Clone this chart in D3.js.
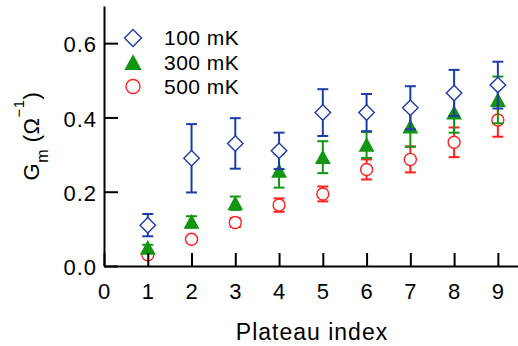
<!DOCTYPE html>
<html>
<head>
<meta charset="utf-8">
<script src="https://cdn.jsdelivr.net/npm/d3@7"></script>
<style>
  html, body { margin: 0; padding: 0; background: #fff; }
  svg { display: block; font-family: "Liberation Sans", Arial, Helvetica, sans-serif; }
</style>
</head>
<body>
<svg id="chart" width="518" height="346"></svg>
<script>
// plateau index 1..9
const plateaus = [1, 2, 3, 4, 5, 6, 7, 8, 9];

// G_m values (1/Ohm) and error half-widths
const g100 = [0.110, 0.290, 0.330, 0.310, 0.413, 0.413, 0.426, 0.466, 0.487];
const e100 = [0.030, 0.092, 0.068, 0.049, 0.063, 0.050, 0.058, 0.062, 0.063];
const g300 = [0.049, 0.119, 0.169, 0.256, 0.293, 0.326, 0.375, 0.413, 0.447];
const e300 = [0.008, 0.015, 0.018, 0.045, 0.043, 0.035, 0.054, 0.054, 0.063];
const g500 = [0.030, 0.072, 0.117, 0.164, 0.194, 0.260, 0.287, 0.333, 0.393];
const e500 = [0.005, 0.006, 0.012, 0.018, 0.020, 0.027, 0.035, 0.040, 0.045];

const xTicks = [0, 1, 2, 3, 4, 5, 6, 7, 8, 9];
const yTicks = [0, 0.2, 0.4, 0.6];
const seriesNames = ["100 mK", "300 mK", "500 mK"];

const svg = d3.select("#chart");
const margin = { left: 104, right: 0, top: 6, bottom: 80 };
const W = 518, H = 346;

const x = d3.scaleLinear().domain([0, 9.46]).range([margin.left, W - margin.right]);
const y = d3.scaleLinear().domain([0, 0.7]).range([H - margin.bottom, margin.top]);

// custom symbol shapes
const diamond = {
	draw(ctx, size) {
		const r = size / 2;
		ctx.moveTo(0, -r);
		ctx.lineTo(r, 0);
		ctx.lineTo(0, r);
		ctx.lineTo(-r, 0);
		ctx.closePath();
	}
};
const triangle = {
	draw(ctx, size) {
		const w = size / 2, h = size * 0.46;
		ctx.moveTo(0, -h);
		ctx.lineTo(w, h);
		ctx.lineTo(-w, h);
		ctx.closePath();
	}
};
const circle = {
	draw(ctx, size) {
		const r = size / 2;
		ctx.moveTo(r, 0);
		ctx.arc(0, 0, r, 0, 2 * Math.PI);
	}
};

const series = [
	{ name: seriesNames[2], vals: g500, errs: e500, color: "#ff1f1f", type: circle, size: 12, legSize: 14, fill: "#fff" },
	{ name: seriesNames[1], vals: g300, errs: e300, color: "#129612", type: triangle, size: 13.5, legSize: 15, fill: "#129612" },
	{ name: seriesNames[0], vals: g100, errs: e100, color: "#1c3ca8", type: diamond, size: 15.5, legSize: 17, fill: "#fff" }
];

const capW = 11;

series.forEach(s => {
	const g = svg.append("g");
	const pts = plateaus.map((p, i) => ({ p: p, v: s.vals[i], e: s.errs[i] }));

	// error bars
	const eb = g.selectAll(".eb").data(pts).enter().append("g")
		.attr("stroke", s.color).attr("stroke-width", 2);
	eb.append("line")
		.attr("x1", d => x(d.p)).attr("x2", d => x(d.p))
		.attr("y1", d => y(d.v + d.e)).attr("y2", d => y(d.v - d.e));
	eb.append("line")
		.attr("x1", d => x(d.p) - capW / 2).attr("x2", d => x(d.p) + capW / 2)
		.attr("y1", d => y(d.v + d.e)).attr("y2", d => y(d.v + d.e));
	eb.append("line")
		.attr("x1", d => x(d.p) - capW / 2).attr("x2", d => x(d.p) + capW / 2)
		.attr("y1", d => y(d.v - d.e)).attr("y2", d => y(d.v - d.e));

	// markers
	g.selectAll(".mk").data(pts).enter().append("path")
		.attr("d", d3.symbol().type(s.type).size(s.size))
		.attr("transform", d => `translate(${x(d.p)},${y(d.v)})`)
		.attr("fill", s.fill)
		.attr("stroke", s.color)
		.attr("stroke-width", 1.4);
});

// axes
const fs = 22;
const xAxis = d3.axisBottom(x).tickValues(xTicks).tickFormat(d3.format("d"))
	.tickSize(-13).tickSizeOuter(0).tickPadding(17);
const yAxis = d3.axisLeft(y).tickValues(yTicks).tickFormat(d3.format(".1f"))
	.tickSize(-14).tickSizeOuter(0).tickPadding(8);

const gx = svg.append("g").attr("transform", `translate(0,${y(0)})`).call(xAxis);
const gy = svg.append("g").attr("transform", `translate(${x(0)},0)`).call(yAxis);

[gx, gy].forEach(a => {
	a.select(".domain").attr("stroke", "#000").attr("stroke-width", 2);
	a.selectAll(".tick line").attr("stroke", "#000").attr("stroke-width", 2);
	a.selectAll(".tick text").attr("fill", "#000")
		.style("font-size", fs + "px")
		.style("letter-spacing", "1px")
		.style("font-family", "'Liberation Sans', Arial, sans-serif");
});
gy.selectAll(".tick text").attr("dy", "0.40em").attr("dx", 1);

// axis titles
svg.append("text")
	.attr("x", 312).attr("y", 340)
	.attr("text-anchor", "middle")
	.style("font-size", "23px")
	.style("letter-spacing", "1px")
	.text("Plateau index");

const yt = svg.append("text")
	.attr("transform", "translate(39,136) rotate(-90)")
	.attr("text-anchor", "middle")
	.style("font-size", "22px")
	.style("letter-spacing", "0.5px");
yt.append("tspan").text("G");
yt.append("tspan").attr("dy", 9).style("font-size", "16px").text("m");
yt.append("tspan").attr("dy", -9).text(" (Ω");
yt.append("tspan").attr("dy", -15).style("font-size", "15px").text("−1");
yt.append("tspan").attr("dy", 15).text(")");

// legend
const legY = [38, 62.5, 86.5];
const legend = svg.append("g");
series.slice().reverse().forEach((s, i) => {
	legend.append("path")
		.attr("d", d3.symbol().type(s.type).size(s.legSize))
		.attr("transform", `translate(133,${legY[i]})`)
		.attr("fill", s.fill)
		.attr("stroke", s.color)
		.attr("stroke-width", 1.4);
	legend.append("text")
		.attr("x", 164).attr("y", legY[i] + 7)
		.style("font-size", "21px")
		.style("letter-spacing", "0.5px")
		.text(s.name);
});
</script>
</body>
</html>
